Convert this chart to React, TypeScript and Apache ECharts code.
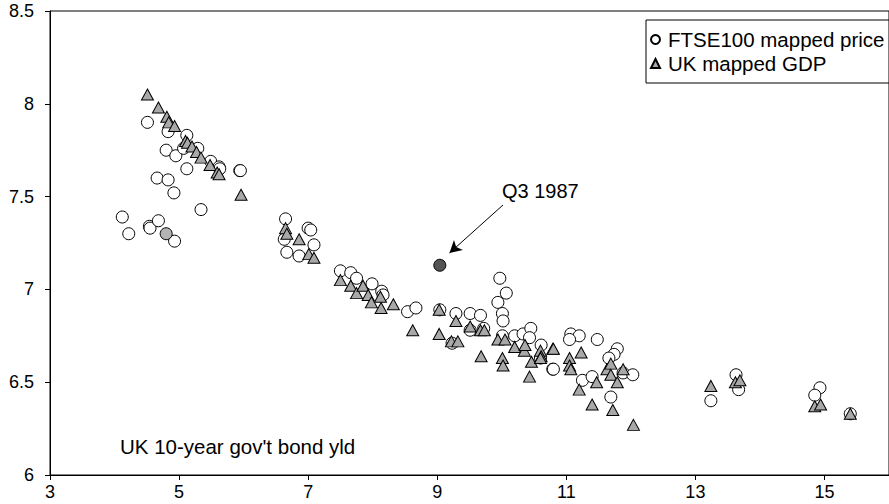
import React, { useEffect, useRef } from "react";
import * as echarts from "echarts";

// FTSE100 mapped price: [bond yield, mapped value]
const ftseX = [4.12, 4.22, 4.51, 4.54, 4.55, 4.68, 4.66, 4.83, 4.80, 4.83, 4.92, 4.93, 4.95, 5.07, 5.12, 5.12, 5.29, 5.34, 5.49, 5.62, 5.63, 5.94, 5.95,
  6.65, 6.63, 6.67, 6.86, 7.00, 7.04, 7.09,
  7.50, 7.66, 7.75, 7.99, 8.14, 8.16, 8.54, 8.67,
  9.04, 9.29, 9.51, 9.67, 9.51, 9.72, 9.97, 10.07, 9.94, 10.01, 10.02, 10.01, 10.20, 10.33, 10.45, 10.43, 10.61, 10.60, 10.79, 9.23,
  11.07, 11.20, 11.05, 11.48, 11.79, 11.74, 11.66, 10.80, 11.88, 12.03, 11.25, 11.40, 11.69,
  13.24, 13.63, 13.67, 14.93, 14.85, 15.40];
const ftseY = [7.39, 7.30, 7.90, 7.34, 7.33, 7.37, 7.60, 7.85, 7.75, 7.59, 7.52, 7.26, 7.72, 7.76, 7.83, 7.65, 7.76, 7.43, 7.69, 7.66, 7.65, 7.64, 7.64,
  7.38, 7.27, 7.20, 7.18, 7.33, 7.32, 7.24,
  7.10, 7.09, 7.06, 7.03, 6.99, 6.97, 6.88, 6.90,
  6.89, 6.87, 6.87, 6.86, 6.78, 6.79, 7.06, 6.98, 6.93, 6.87, 6.83, 6.75, 6.75, 6.76, 6.79, 6.74, 6.70, 6.63, 6.57, 6.71,
  6.76, 6.75, 6.73, 6.73, 6.68, 6.65, 6.63, 6.57, 6.55, 6.54, 6.51, 6.53, 6.42,
  6.40, 6.54, 6.46, 6.47, 6.43, 6.33];

// Highlighted FTSE points
const greyPoint = [4.80, 7.30];
const q3_1987 = [9.04, 7.13];

// UK mapped GDP
const gdpX = [4.51, 4.68, 4.81, 4.84, 4.93, 5.10, 5.13, 5.20, 5.27, 5.34, 5.48, 5.59, 5.62, 5.96,
  6.65, 6.67, 6.86, 7.01, 7.09,
  7.50, 7.66, 7.75, 7.85, 7.93, 7.98, 8.12, 8.13, 8.32, 8.62,
  9.03, 9.29, 9.03, 9.22, 9.32, 9.51, 9.67, 9.73, 9.94, 10.05, 9.68, 10.01, 10.02, 10.20, 10.35, 10.36, 10.46, 10.43, 10.60, 10.61, 10.79,
  10.80, 10.60, 11.05, 11.23, 11.05, 11.07, 11.47, 11.20, 11.63, 11.69, 11.69, 11.88, 11.79, 11.40, 11.72, 12.04,
  13.24, 13.62, 13.69, 14.85, 14.94, 15.40];
const gdpY = [8.05, 7.98, 7.93, 7.90, 7.88, 7.80, 7.79, 7.77, 7.74, 7.71, 7.67, 7.63, 7.62, 7.51,
  7.33, 7.30, 7.27, 7.19, 7.17,
  7.05, 7.02, 6.98, 7.02, 6.97, 6.93, 6.96, 6.90, 6.92, 6.78,
  6.89, 6.83, 6.76, 6.72, 6.72, 6.80, 6.78, 6.78, 6.73, 6.73, 6.64, 6.63, 6.59, 6.69, 6.67, 6.70, 6.61, 6.53, 6.67, 6.64, 6.68,
  6.68, 6.63, 6.63, 6.66, 6.59, 6.57, 6.50, 6.46, 6.57, 6.60, 6.54, 6.57, 6.50, 6.38, 6.35, 6.27,
  6.48, 6.50, 6.51, 6.37, 6.38, 6.33];

const yTicks = [6, 6.5, 7, 7.5, 8, 8.5];
const xTicks = [3, 5, 7, 9, 11, 13, 15];

const FONT = "'Liberation Sans', Arial, Helvetica, sans-serif";

export default function App() {
  const ref = useRef<HTMLDivElement>(null);
  useEffect(() => {
    if (!ref.current) return;
    const chart = echarts.init(ref.current, null, { renderer: "svg" });
    const ftseData: any[] = ftseX.map((x, i) => [x, ftseY[i]]);
    ftseData.push({ value: greyPoint, itemStyle: { color: "#b4b4b4" } });
    ftseData.push({ value: q3_1987, itemStyle: { color: "#555555" } });
    const gdpData = gdpX.map((x, i) => [x, gdpY[i]]);
    chart.setOption({
      animation: false,
      textStyle: { fontFamily: FONT },
      grid: {
        left: 50, top: 11, right: -9, bottom: 29,
        show: true, borderColor: "#000", borderWidth: 1, backgroundColor: "transparent",
      },
      xAxis: {
        type: "value", min: xTicks[0], max: 16, interval: 2,
        axisLine: { show: true, lineStyle: { color: "#000", width: 1 } },
        axisTick: { show: true, length: 5, lineStyle: { color: "#000" } },
        axisLabel: { color: "#000", fontSize: 18, margin: 8, showMaxLabel: false, fontFamily: FONT },
        splitLine: { show: false },
      },
      yAxis: {
        type: "value", min: yTicks[0], max: yTicks[yTicks.length - 1], interval: 0.5,
        axisLine: { show: true, lineStyle: { color: "#000", width: 1 } },
        axisTick: { show: true, length: 5, lineStyle: { color: "#000" } },
        axisLabel: { color: "#000", fontSize: 18, margin: 16, fontFamily: FONT },
        splitLine: { show: false },
      },
      legend: {
        orient: "vertical", left: 646, top: 20,
        padding: [9, 20, 9, 4], itemGap: 3,
        itemWidth: 9, itemHeight: 9,
        borderColor: "#000", borderWidth: 1, borderRadius: 0,
        textStyle: { fontSize: 20.5, color: "#000", fontFamily: FONT, padding: [0, 0, 0, 3] },
        data: [
          { name: "FTSE100 mapped price", icon: "circle" },
          { name: "UK mapped GDP", icon: "triangle" },
        ],
      },
      graphic: [
        { type: "text", left: 120, top: 436, style: { text: "UK 10-year gov't bond yld", fill: "#000", font: `20.5px ${FONT}` } },
        { type: "text", left: 502, top: 181, style: { text: "Q3 1987", fill: "#000", font: `20px ${FONT}` } },
      ],
      series: [
        {
          name: "FTSE100 mapped price", type: "scatter", symbol: "circle", symbolSize: 12,
          itemStyle: { color: "#fff", borderColor: "#000", borderWidth: 1, opacity: 1 },
          data: ftseData,
          markLine: {
            silent: true, symbol: ["none", "arrow"], symbolSize: [10, 12],
            lineStyle: { color: "#000", width: 1, type: "solid" },
            label: { show: false },
            data: [[{ coord: [10.02, 7.455] }, { coord: [9.19, 7.196] }]],
          },
        },
        {
          name: "UK mapped GDP", type: "scatter", symbol: "triangle", symbolSize: [12, 11],
          itemStyle: { color: "#a8a8a8", borderColor: "#000", borderWidth: 1, opacity: 1 },
          data: gdpData,
        },
      ],
    });
    return () => chart.dispose();
  }, []);
  return <div ref={ref} style={{ position: "absolute", left: 0, top: 0, width: 889, height: 504 }} />;
}
